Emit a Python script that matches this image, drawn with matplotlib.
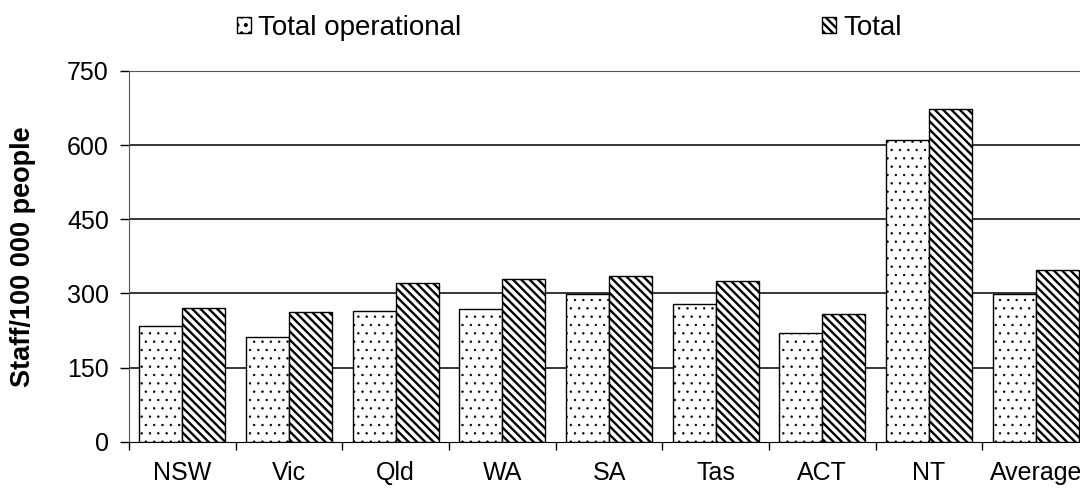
import numpy as np
import matplotlib
matplotlib.use("Agg")
import matplotlib.pyplot as plt

plt.rcParams['font.family'] = ['Liberation Sans', 'DejaVu Sans']
plt.rcParams['hatch.linewidth'] = 1.7

# Datos
categories = ['NSW', 'Vic', 'Qld', 'WA', 'SA', 'Tas', 'ACT', 'NT', 'Average']
total_operational = [235, 211, 264, 268, 298, 278, 220, 610, 298]
total = [271, 262, 322, 329, 335, 325, 259, 673, 347]
yticks = [0, 150, 300, 450, 600, 750]

fig = plt.figure(figsize=(10.8, 4.93), dpi=100)
ax = fig.add_axes([0.1194, 0.104, 0.889, 0.752])

x = np.arange(len(categories))
width = 0.403

b1 = ax.bar(x - width / 2, total_operational, width, color='white',
            edgecolor='black', hatch='..', linewidth=1.0, zorder=3,
            label='Total operational')
b2 = ax.bar(x + width / 2, total, width, color='white',
            edgecolor='black', hatch='\\\\\\\\', linewidth=1.0, zorder=3,
            label='Total')

# grosor del rayado por serie (si la versión lo permite)
for p in b1:
    if hasattr(p, 'set_hatch_linewidth'):
        p.set_hatch_linewidth(0.5)
for p in b2:
    if hasattr(p, 'set_hatch_linewidth'):
        p.set_hatch_linewidth(1.7)

ax.set_xlim(-0.5, len(categories) - 0.5)
ax.set_ylim(0, 750)
ax.set_yticks(yticks)
ax.set_xticks(x)
ax.set_xticklabels(categories)
ax.set_xticks(np.arange(len(categories) + 1) - 0.5, minor=True)
ax.tick_params(axis='x', which='major', length=0, pad=14, labelsize=18)
ax.tick_params(axis='x', which='minor', length=6, width=1.0, direction='out')
ax.tick_params(axis='y', length=6.5, width=1.0, direction='out', pad=8,
               labelsize=18)

ax.yaxis.grid(True, color='black', linewidth=1.1, zorder=1)
ax.set_axisbelow(True)
ax.get_ygridlines()[-1].set_visible(False)
ax.get_ygridlines()[0].set_visible(False)

for side in ['left', 'top', 'right']:
    ax.spines[side].set_color('#555555')
ax.spines['bottom'].set_color('black')

ax.set_ylabel('Staff/100 000 people', fontsize=19.5, fontweight='bold',
              labelpad=22)

fig.legend(handles=[b1, b2], loc='center', bbox_to_anchor=(0.527, 0.943),
           ncol=2, frameon=False, fontsize=20, handlelength=0.5,
           handleheight=0.5, handletextpad=0.25, columnspacing=13.0,
           borderpad=0)

fig.savefig('out.png', dpi=100)
